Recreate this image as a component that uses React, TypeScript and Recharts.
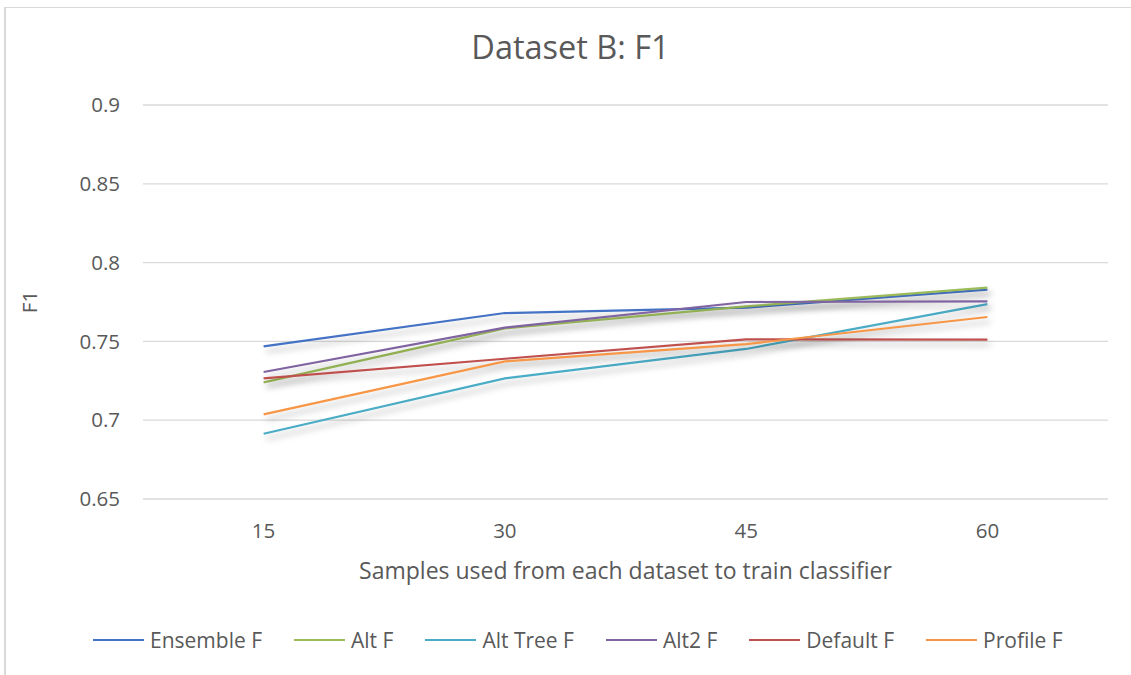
import React from 'react';
import { LineChart, Line, XAxis, YAxis, CartesianGrid } from 'recharts';

const categories = ['15', '30', '45', '60'];
const ensembleF = [0.7468, 0.768, 0.7714, 0.7828];
const altF = [0.724, 0.7583, 0.7722, 0.7841];
const altTreeF = [0.6914, 0.7265, 0.7452, 0.7737];
const alt2F = [0.7306, 0.7587, 0.775, 0.7754];
const defaultF = [0.7265, 0.739, 0.7513, 0.7511];
const profileF = [0.7037, 0.7373, 0.7483, 0.7655];
const yTicks = [0.65, 0.7, 0.75, 0.8, 0.85, 0.9];

const series = [
  { key: 'ensemble', name: 'Ensemble F', values: ensembleF, color: '#4472C4' },
  { key: 'alt', name: 'Alt F', values: altF, color: '#9BBB59' },
  { key: 'altTree', name: 'Alt Tree F', values: altTreeF, color: '#4BACC6' },
  { key: 'alt2', name: 'Alt2 F', values: alt2F, color: '#8064A2' },
  { key: 'default', name: 'Default F', values: defaultF, color: '#C0504D' },
  { key: 'profile', name: 'Profile F', values: profileF, color: '#F79646' },
];

const data = categories.map((c, i) => {
  const row: Record<string, string | number> = { cat: c };
  series.forEach((s) => {
    row[s.key] = s.values[i];
  });
  return row;
});

const FONT = '"Open Sans", sans-serif';
const TXT = '#595959';

export default function App() {
  return (
    <div>
      <style>{`.recharts-line-curve { filter: drop-shadow(3px 5px 3px rgba(0,0,0,0.28)); }`}</style>
      <div
        style={{
          position: 'absolute',
          left: 4,
          top: 7,
          width: 1200,
          height: 800,
          borderLeft: '2px solid #d9d9d9',
          borderTop: '1px solid #d9d9d9',
          boxSizing: 'border-box',
        }}
      />
      <div
        style={{
          position: 'absolute',
          left: 0,
          top: 0,
          width: 1131,
          height: 675,
          fontFamily: FONT,
        }}
      >
        <LineChart
          width={1131}
          height={675}
          data={data}
          margin={{ top: 105, right: 23, left: 0, bottom: 0 }}
        >
          <CartesianGrid horizontal vertical={false} stroke="#d9d9d9" strokeWidth={1.3} />
          <XAxis
            dataKey="cat"
            height={176}
            axisLine={false}
            tickLine={false}
            padding={{ left: 120.6, right: 120.6 }}
            tickMargin={18}
            tick={{ fill: TXT, fontSize: 20.5, fontFamily: FONT }}
            label={{
              value: 'Samples used from each dataset to train classifier',
              position: 'insideTop',
              offset: 64,
              fill: TXT,
              fontSize: 23,
              fontFamily: FONT,
            }}
          />
          <YAxis
            width={143}
            domain={[0.65, 0.9]}
            ticks={yTicks}
            axisLine={false}
            tickLine={false}
            tickMargin={17}
            tick={{ fill: TXT, fontSize: 20.5, fontFamily: FONT }}
            label={{
              value: 'F1',
              angle: -90,
              position: 'insideLeft',
              offset: 30,
              fill: TXT,
              fontSize: 20.5,
              fontFamily: FONT,
              style: { textAnchor: 'middle' },
            }}
          />
          {series.map((s) => (
            <Line
              key={s.key}
              type="linear"
              dataKey={s.key}
              name={s.name}
              stroke={s.color}
              strokeWidth={2.2}
              dot={false}
              activeDot={false}
              isAnimationActive={false}
            />
          ))}
        </LineChart>
        <div
          style={{
            position: 'absolute',
            left: 0,
            width: 1141,
            top: 24,
            textAlign: 'center',
            fontSize: 32.5,
            color: TXT,
            fontFamily: FONT,
          }}
        >
          Dataset B: F1
        </div>
        <div
          style={{
            position: 'absolute',
            left: 93,
            top: 626,
            display: 'flex',
            alignItems: 'center',
            gap: 32,
            fontSize: 21,
            color: TXT,
            fontFamily: FONT,
            whiteSpace: 'nowrap',
          }}
        >
          {series.map((s) => (
            <div key={s.key} style={{ display: 'flex', alignItems: 'center', gap: 6 }}>
              <svg width={51} height={4}>
                <line x1={0} y1={2} x2={51} y2={2} stroke={s.color} strokeWidth={2.2} />
              </svg>
              <span>{s.name}</span>
            </div>
          ))}
        </div>
      </div>
    </div>
  );
}
